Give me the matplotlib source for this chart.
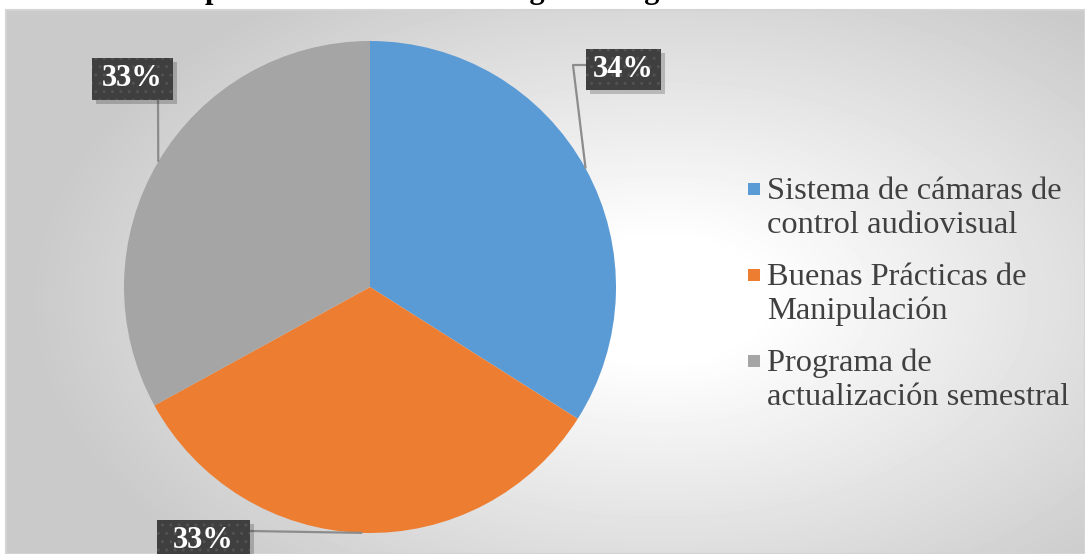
import numpy as np
import matplotlib.pyplot as plt
from matplotlib.patches import Rectangle

# data
categories = ['Sistema de cámaras de\ncontrol audiovisual',
              'Buenas Prácticas de\nManipulación',
              'Programa de\nactualización semestral']
values = [34, 33, 33]
pct_labels = ['34%', '33%', '33%']
colors = ['#5B9BD5', '#ED7D31', '#A5A5A5']
title = 'puestos efectivos en bodega de resguardo de insumos'

W, H = 1085, 554
plt.rcParams['font.family'] = ['Liberation Serif', 'DejaVu Serif']
plt.rcParams['hatch.linewidth'] = 1.0


def Y(y):
    # layout helper: pixel row from top -> data y
    return H - y


fig = plt.figure(figsize=(W / 100, H / 100), dpi=100)
ax = fig.add_axes([0, 0, 1, 1])

# chart area with soft radial gradient
x0, x1, y0, y1 = 6, W, 0, H - 10
xx, yy = np.meshgrid(np.arange(x0, x1), np.arange(y0, y1))
d = np.sqrt(((xx - 660) / 560.0) ** 2 + ((yy - Y(300)) / 330.0) ** 2)
t = np.clip((d - 0.18) / 0.95, 0, 1)
g = 1 - 0.21 * t
ax.imshow(g, cmap='gray', vmin=0, vmax=1, extent=(x0, x1, y0, y1),
          origin='lower', zorder=0, interpolation='bilinear')
ax.add_patch(Rectangle((x0, y0), x1 - x0, y1 - y0, fill=False,
                       ec='#d4d4d4', lw=1.5, zorder=1))

# pie
cx, cy, r = 370, Y(287), 246
wedges, _ = ax.pie(values, colors=colors, startangle=90, counterclock=False,
                   center=(cx, cy), radius=r, frame=True,
                   wedgeprops=dict(linewidth=0, zorder=2))

# data labels: box (left, top, w, h) and leader bend points, in pixels from top-left
label_boxes = [(586, 49, 75, 41), (157, 520, 93, 41), (92, 58, 81, 42)]
leader_pts = [[(573, 65), (586, 65)], [(250, 531)], [(158, 100)]]

for w, lab, box, pts in zip(wedges, pct_labels, label_boxes, leader_pts):
    mid = np.deg2rad((w.theta1 + w.theta2) / 2)
    ex, ey = cx + r * np.cos(mid), cy + r * np.sin(mid)
    xs = [ex] + [p[0] for p in pts]
    ys = [ey] + [Y(p[1]) for p in pts]
    ax.plot(xs, ys, color='#8c8c8c', lw=1.6, zorder=3, solid_capstyle='butt')
    bx, by, bw, bh = box
    ax.add_patch(Rectangle((bx + 4, Y(by + bh) - 4), bw, bh, fc='black',
                           ec='none', alpha=0.2, zorder=4))
    ax.add_patch(Rectangle((bx, Y(by + bh)), bw, bh, fc='#3f3f3f',
                           ec='#525252', lw=0, hatch='..', zorder=5))
    ax.text(bx + bw / 2, Y(by + bh / 2), lab, color='white', fontsize=22,
            fontweight='bold', ha='center', va='center', zorder=6)

# legend
leg_base = [199, 285, 371]
line_step = 34
for lab, col, yb in zip(categories, colors, leg_base):
    ax.add_patch(Rectangle((748, Y(yb - 4)), 12, 12, fc=col, ec='none', zorder=5))
    for i, line in enumerate(lab.split('\n')):
        ax.text(767, Y(yb + i * line_step), line, fontsize=23.4,
                color='#404040', ha='left', va='baseline', zorder=6)

# title (cut off by the top edge, as in the source)
ax.text(548, Y(-2), title, fontsize=22, fontweight='bold', color='black',
        ha='center', va='baseline', zorder=6)

ax.set_xlim(0, W)
ax.set_ylim(0, H)
ax.set_aspect('auto')
ax.axis('off')

fig.savefig('out.png', dpi=100, facecolor='white')
